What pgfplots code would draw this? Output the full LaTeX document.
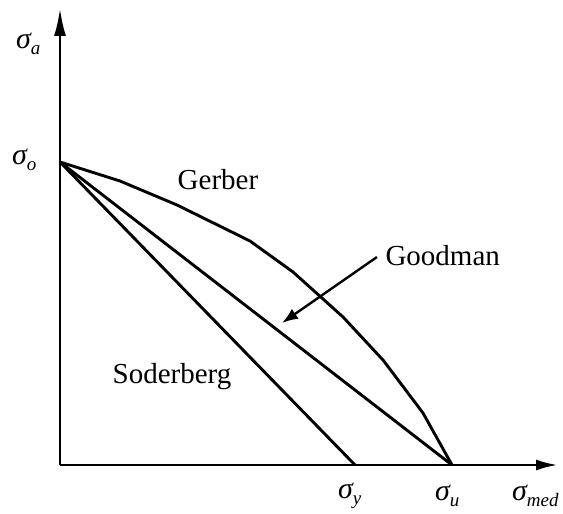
\documentclass[border=0pt]{standalone}
\usepackage{fontspec}
\setmainfont{Liberation Serif}
\usepackage{pgfplots}
\pgfplotsset{compat=1.18}
\usetikzlibrary{arrows.meta}

% stress symbols in Times-like italic with a lowered subscript
\newcommand{\sig}[1]{\textit{σ}\kern-1pt\raisebox{-0.4ex}{\fontsize{19}{20}\selectfont\textit{#1}}}

\begin{document}
\begin{tikzpicture}
\useasboundingbox (-60pt,-49pt) rectangle (503pt,465pt);
\begin{axis}[
  scale only axis,
  width=498pt, height=457pt,
  xmin=0, xmax=498, ymin=0, ymax=457,
  axis lines=left,
  axis line style={line width=2.8pt},
  x axis line style={-{Latex[length=22pt,width=11pt]}},
  y axis line style={-{Latex[length=28pt,width=12pt]}},
  xtick=\empty, ytick=\empty,
  clip=false,
  every axis plot/.append style={line width=2.9pt, line join=round, no markers},
]
% Gerber
\addplot[black] coordinates {(0,303) (60,284) (117,260) (190,224) (233,193) (283,148) (323,105) (363,52) (392,0)};
% Goodman
\addplot[black] coordinates {(0,303) (392,0)};
% Soderberg
\addplot[black] coordinates {(0,303) (295,0)};
% pointer to the Goodman line
\addplot[black, line width=2.4pt, -{Latex[length=16pt,width=12pt]}] coordinates {(317,208) (222,142)};

\node[font=\fontsize{29}{30}\selectfont] at (axis cs:158,285) {Gerber};
\node[font=\fontsize{29}{30}\selectfont, anchor=west] at (axis cs:322,209) {Goodman};
\node[font=\fontsize{29}{30}\selectfont] at (axis cs:112,88) {Soderberg};

\node[font=\fontsize{30}{30}\selectfont, anchor=west, inner sep=0pt] at (axis cs:-44,421) {\sig{a}};
\node[font=\fontsize{30}{30}\selectfont, anchor=west, inner sep=0pt] at (axis cs:-48,305) {\sig{o}};
\node[font=\fontsize{30}{30}\selectfont, anchor=west, inner sep=0pt] at (axis cs:278,-31) {\sig{y}};
\node[font=\fontsize{30}{30}\selectfont, anchor=west, inner sep=0pt] at (axis cs:375,-31) {\sig{u}};
\node[font=\fontsize{30}{30}\selectfont, anchor=west, inner sep=0pt] at (axis cs:452,-31) {\sig{med}};
\end{axis}
\end{tikzpicture}
\end{document}
